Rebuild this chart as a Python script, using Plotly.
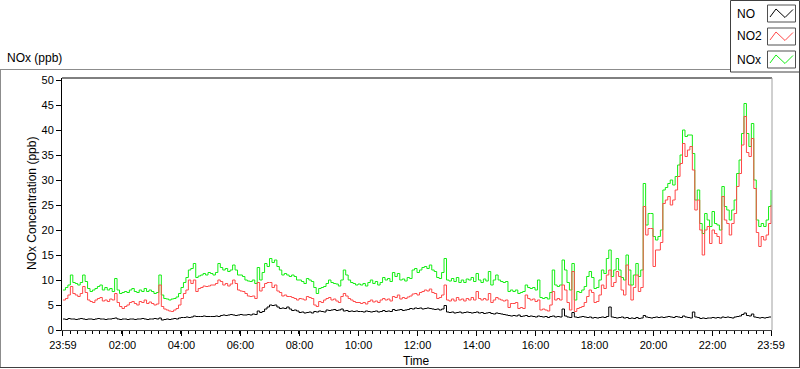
import plotly.graph_objects as go
import pandas as pd

# 5-minute samples from 23:59 to 23:59 next day
times = pd.date_range("2000-01-01 23:59", periods=289, freq="5min")

no_ppb = [
    2.2,2.1,2.3,2.2,2.2,2.1,2.2,2.3,2.2,2.1, 2.2,2.2,2.1,2.2,2.3,2.2,2.2,2.1,2.2,2.2,
    2.3,2.4,2.2,2.1,2.2,2.2,2.1,2.2,2.2,2.1, 2.2,
    2.2,2.3,2.2,2.1,2.2,2.2,2.3,2.2,2.4,
    2.0,2.1,2.2,2.1,2.2,2.3,2.2,2.4,2.5,2.5,
    2.6,2.5,2.6,2.8,2.7,2.7,2.7,2.8,2.7,2.7,
    2.7,
    2.7,2.8,2.7,2.9,3.0,2.9,3.0,3.1,3.0,
    2.9,3.0,3.1,3.0,3.0,3.1,3.0,3.2,3.1,3.8,
    3.5,3.7,4.2,4.6,5.0,4.9,5.0,4.6,4.3,4.4,
    4.3,4.6,4.2,3.9,4.0,3.8,3.5,3.6,3.4,3.5,
    3.6,3.4,3.7,3.6,3.8,3.7,3.6,4.0,3.9,4.0,
    4.1,3.9,4.0,4.2,3.8,3.9,3.7,3.8,3.7,3.8,
    3.7,
    3.7,3.6,3.8,3.7,3.6,3.7,3.8,3.6,3.7,
    3.9,3.7,3.8,3.7,4.1,3.9,4.0,4.1,3.9,4.0,
    4.1,4.3,4.2,4.4,4.3,4.4,4.2,4.3,4.4,4.3,
    4.2,4.1,4.2,4.0,4.2,4.9,3.6,3.5,3.6,3.4,
    3.5,3.6,3.4,3.5,3.6,3.5,3.4,3.5,3.6,3.4,
    3.5,3.3,3.4,3.5,3.3,3.2,3.4,3.3,3.2,3.1,
    3.0,
    2.9,2.8,2.9,2.8,3.0,2.7,2.8,2.9,2.7,
    2.8,2.7,2.6,2.8,2.7,2.6,2.7,2.5,2.7,2.8,
    2.6,2.7,2.6,4.2,2.8,2.6,2.5,3.5,2.6,2.5,
    2.6,2.7,2.6,2.5,2.6,2.4,2.5,2.4,2.5,2.6,
    2.5,2.7,4.6,2.6,2.5,2.4,2.5,2.6,2.4,2.5,
    2.3,2.4,2.3,2.5,2.3,2.4,
    2.9,2.6,2.5,2.4,2.5,2.6,2.5,2.6,2.5,
    2.6,2.7,2.6,2.5,2.7,2.6,2.5,2.8,2.6,2.5,
    2.4,3.6,2.6,2.5,2.3,2.4,2.3,2.4,2.4,2.5,
    2.4,2.5,2.4,2.6,2.5,2.6,2.5,2.4,2.6,2.7,
    2.8,3.1,3.4,2.9,2.8,3.2,2.6,2.5,2.4,2.5,
    2.4,2.5,2.6,2.6,
]

no2_ppb = [
    6,6.3,7,8.7,7.3,7,6.7,7.3,8.7,7.5,
    6,5.7,5.5,6,6.3,6.5,5.8,6,5.7,6.2,
    6,7.3,5.5,4.7,4.3,4.7,5,5.5,5.7,5.3,
    5,5.7,5.5,6,5.3,5.6,5.3,5,5.2,9,
    4.7,4.2,4,3.8,3.7,4,4.3,5,6.3,7.3,
    8,10,9.3,10,7.7,8.3,8.5,8.8,8.7,8.8,
    9,
    9,9.3,10,9.7,9,9.3,8.8,9.2,10,
    9.3,8,7.8,7.7,7.3,6.8,6.7,6.8,6.3,9.5,
    7.8,8.5,9.3,9.5,9.5,8.5,9,7.8,7.5,6.8,
    7,6.7,6.7,6.5,6.3,6,6.3,6.2,6,6.7,
    6.5,6.3,5,4.7,5.7,5.5,6,6.3,6.5,6,
    6.2,5.8,5.5,6.7,7.3,6.8,6.3,6,5.7,5.5,
    5.5,
    5.3,5.5,5.2,5.7,6,5.6,5.8,5.5,6,
    6.3,6,6.2,5.8,6.7,6.5,7,6.2,6.5,6.3,
    6.6,6.8,7.2,7.3,7,7.5,7.7,8,7.8,8.2,
    7.5,7.3,6.3,6.5,7,9,6,5.8,6.2,5.8,
    6.5,6,6.2,5.8,6.3,6,6.5,6,7.7,6.3,
    6,6.3,6,7.3,5.5,6,6.5,6.2,6,5.8,
    6,
    4.5,5.3,5.3,5.5,4.3,4.5,4.3,7,6.3,
    6,6.2,5.7,6,4,4.2,4,3.8,5,7.7,
    6,6.3,6,9,8,5.5,4,11.7,3.7,4.3,
    4.5,4.7,5.5,6.7,8,7.5,5.5,5.7,7,9,
    8.3,11,12,8.7,9.5,11.7,10.7,8,7,13,
    9,6,8.5,11,7.7,8.5,
    24.7,19,20.3,20.3,12.7,16,16,17.5,25.3,
    26,26.7,25,26,28,30.7,33.3,37.3,34.7,36,
    36.7,32,24,26,20,15,20,20.7,17.3,20,
    19.3,18.7,17.3,26.7,22,21.3,19,21.3,23.3,28.7,
    31.3,37,42.7,35.5,34.7,38.3,28.3,19.5,16.7,18.7,
    18,19,21.3,25,
]

nox_ppb = [
    8,8.5,9,11,9.5,9.3,9,9.5,11,9.7,
    8.3,7.7,8,8.3,8.7,9,8,8.5,8,8.3,
    7.7,10.3,8,7.3,7.5,7.7,7.5,8,8.3,7.7,
    7.5,8,7.7,8.3,7.7,8,7.7,7.3,7.5,11,
    7,6.3,6.2,6,6.2,6.3,6.6,7.3,8.5,9.5,
    10.5,12,12.3,13.3,10.5,10.8,11,11.3,11,11.5,
    11.3,
    11,11.5,13.3,12.5,12,12.3,11.7,12,13,
    12,11,11,10.7,10,9.8,9.7,10,9.3,12.5,
    10,11.5,13.3,12.7,14.3,13.5,14,12.7,12,11,
    11.3,11,10.7,11,10.7,10,10,9.7,9.3,10.3,
    10,9.7,8.5,7.3,8.3,8.5,8.7,9.3,10,9.5,
    9.3,9.2,8.8,10,12,11,10,9.5,9.3,9,
    9.2,
    9,9.3,8.8,9.5,10,9.3,9.7,9,9.5,
    10.5,10,10.3,9.7,11.5,10.7,11.3,10,10.2,9.8,
    10.5,10.3,12,12.3,11.5,12,12.5,12.7,12.3,13,
    12,11.7,10.5,10.3,11.5,14.3,10,9.8,10.3,9.7,
    10.5,9.5,10,9.5,10.2,10,10.5,9.7,11.3,10,
    9.5,10.2,9.8,11.7,9,10,11,10,9.7,9.5,
    9.7,
    7.7,8,7.7,8,7.3,7.5,7.7,9,8.5,
    8.3,8.5,8,10,6.5,6.3,6.5,6.2,7.5,12,
    9,8.7,9,14,12,9.5,8,13.3,6,7.7,
    7.5,8,8.7,10.7,11.7,10.5,8.3,8.5,10,12,
    11.3,14.3,16,10.7,12,14.3,12,10.5,10,15,
    12,9,11,13.3,10.7,12,
    29.3,21,23.3,23.3,18.7,18,18.7,20,28,
    28.5,29.3,30,29,30.7,33,35,40,38.7,39,
    39,35.3,26,28,21.3,19.3,23.3,22,20.7,23.7,
    21.3,21,20,28.7,24.7,24,22,24,26,31.3,
    34,39.3,45.3,39.3,36.7,41.3,30,22,20.7,21.3,
    20.7,22,24.7,28,
]

assert len(no_ppb) == 289, len(no_ppb)
assert len(no2_ppb) == 289, len(no2_ppb)
assert len(nox_ppb) == 289, len(nox_ppb)

series_names = ["NO", "NO2", "NOx"]
series_colors = ["#000000", "#ff4848", "#14ee14"]

tick_vals = [pd.Timestamp("2000-01-01 23:59")] + [
    pd.Timestamp("2000-01-02") + pd.Timedelta(hours=h) for h in range(2, 24, 2)
] + [pd.Timestamp("2000-01-02 23:59")]
tick_text = ["23:59", "02:00", "04:00", "06:00", "08:00", "10:00", "12:00",
             "14:00", "16:00", "18:00", "20:00", "22:00", "23:59"]
y_ticks = [0, 5, 10, 15, 20, 25, 30, 35, 40, 45, 50]

FONT = "Liberation Sans"
W, H = 800, 369
ML, MR, MT, MB = 62, 28, 78, 39
PW, PH = W - ML - MR, H - MT - MB


def px(x):
    return (x - ML) / PW


def py(y):
    return (H - MB - y) / PH


fig = go.Figure()
fig.add_trace(go.Scatter(x=times, y=nox_ppb, mode="lines", name="NOx",
                         line=dict(color=series_colors[2], width=1, shape="hv")))
fig.add_trace(go.Scatter(x=times, y=no2_ppb, mode="lines", name="NO2",
                         line=dict(color=series_colors[1], width=1, shape="hv")))
fig.add_trace(go.Scatter(x=times, y=no_ppb, mode="lines", name="NO",
                         line=dict(color=series_colors[0], width=1, shape="hv")))

shapes = []
line_gray = dict(color="#8c8c8c", width=1)
dark = dict(color="#404040", width=1)
# outer panel frame
shapes.append(dict(type="line", xref="paper", yref="paper", x0=px(0), x1=px(730.5), y0=py(69.5), y1=py(69.5), line=line_gray))
shapes.append(dict(type="line", xref="paper", yref="paper", x0=px(0.5), x1=px(0.5), y0=py(69.5), y1=py(368), line=line_gray))
shapes.append(dict(type="line", xref="paper", yref="paper", x0=px(0), x1=px(800), y0=py(367.5), y1=py(367.5), line=dark))
shapes.append(dict(type="line", xref="paper", yref="paper", x0=px(799.5), x1=px(799.5), y0=py(72), y1=py(368), line=dark))
# plot frame top and right
shapes.append(dict(type="line", xref="paper", yref="paper", x0=0, x1=1, y0=1, y1=1, line=dict(color="#000000", width=1)))
shapes.append(dict(type="line", xref="paper", yref="paper", x0=1, x1=1, y0=0, y1=1, line=dict(color="#a0a0a0", width=1)))
# legend box
shapes.append(dict(type="rect", xref="paper", yref="paper", x0=px(730.5), x1=px(799.5), y0=py(0.5), y1=py(72),
                   line=dark, fillcolor="white"))

annotations = []
row_centers = [13.5, 36.5, 59.5]
for name, col, cy in zip(series_names, series_colors, row_centers):
    annotations.append(dict(text=name, xref="paper", yref="paper", x=px(735), y=py(cy),
                            xanchor="left", yanchor="middle", showarrow=False,
                            font=dict(family=FONT, size=12, color="#000000")))
    shapes.append(dict(type="rect", xref="paper", yref="paper", x0=px(767.5), x1=px(795.5),
                       y0=py(cy - 8.5), y1=py(cy + 8.5), line=dict(color="#505050", width=1), fillcolor="white"))
    pts = [(770, cy + 3.5), (776, cy - 4.5), (785, cy + 4), (793, cy - 4)]
    path = "M " + " L ".join(f"{px(a):.5f},{py(b):.5f}" for a, b in pts)
    shapes.append(dict(type="path", xref="paper", yref="paper", path=path, line=dict(color=col, width=1)))

annotations.append(dict(text="NOx (ppb)", xref="paper", yref="paper", x=px(5), y=py(58),
                        xanchor="left", yanchor="middle", showarrow=False,
                        font=dict(family=FONT, size=12, color="#000000")))
annotations.append(dict(text="NOx Concentration (ppb)", xref="paper", yref="paper", x=px(32), y=py(204),
                        xanchor="center", yanchor="middle", textangle=-90, showarrow=False,
                        font=dict(family=FONT, size=12, color="#000000")))
annotations.append(dict(text="Time", xref="paper", yref="paper", x=px(416), y=py(361),
                        xanchor="center", yanchor="middle", showarrow=False,
                        font=dict(family=FONT, size=12, color="#000000")))

fig.update_layout(
    width=W, height=H,
    margin=dict(l=ML, r=MR, t=MT, b=MB, pad=0),
    paper_bgcolor="white", plot_bgcolor="white",
    showlegend=False,
    shapes=shapes, annotations=annotations,
    font=dict(family=FONT, size=11, color="#000000"),
)
fig.update_xaxes(
    range=[pd.Timestamp("2000-01-01 23:57"), pd.Timestamp("2000-01-03 00:01")],
    tickmode="array", tickvals=tick_vals, ticktext=tick_text,
    ticks="outside", ticklen=5, tickcolor="#000000", tickwidth=1,
    showgrid=False, zeroline=False, showline=True, linecolor="#404040", linewidth=1,
    tickfont=dict(family=FONT, size=11, color="#000000"),
    minor=dict(ticks="outside", ticklen=3, tickcolor="#000000", tickwidth=1,
               tickmode="linear", tick0="2000-01-01 23:59", dtick=15 * 60 * 1000, showgrid=False),
)
fig.update_yaxes(
    range=[0, 50.4], tickmode="array", tickvals=y_ticks,
    ticks="outside", ticklen=5, tickcolor="#000000", tickwidth=1,
    showgrid=False, zeroline=False, showline=True, linecolor="#000000", linewidth=1,
    tickfont=dict(family=FONT, size=11, color="#000000"),
)

fig.write_html(
    "out.html",
    config={"displayModeBar": False},
    post_script="document.body.style.margin='0';document.body.style.padding='0';document.body.style.overflow='hidden';",
)
